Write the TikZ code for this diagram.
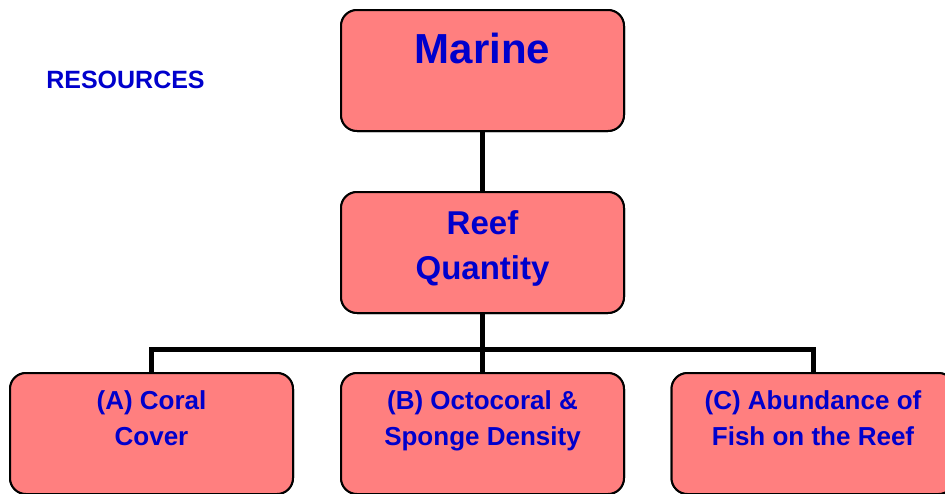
\documentclass[tikz,border=0pt]{standalone}
\usepackage{fontspec}
\setmainfont{Liberation Sans}
\definecolor{boxfill}{HTML}{FF7F7F}
\definecolor{txtblue}{HTML}{0000CC}
\begin{document}
\begin{tikzpicture}[x=1pt,y=-1pt,
  box/.style={draw=black, line width=2pt, fill=boxfill, rounded corners=16pt,
              minimum width=283pt, minimum height=121pt, inner sep=0pt},
  lbl/.style={text=txtblue, font=\bfseries, align=center, inner sep=0pt},
  small/.style={lbl, font=\bfseries\fontsize{26}{36}\selectfont},
  link/.style={line width=5pt, line join=miter}]
\useasboundingbox (0,0) rectangle (945,493);
% boxes
\node[box] (marine) at (482.5,70.5) {};
\node[box] (reef)   at (482.5,252.5) {};
\node[box] (ca)     at (151.5,433.5) {};
\node[box] (cb)     at (482.5,433.5) {};
\node[box] (cc)     at (813,433.5) {};
\coordinate (bus) at (482.5,349);
% connectors
\draw[link] (marine.south) -- (reef.north);
\draw[link] (reef.south) -- (cb.north);
\draw[link] (ca.north) |- (bus) -| (cc.north);
% redraw boxes' borders above connectors
\node[box] at (marine) {};
\node[box] at (reef) {};
\node[box] at (ca) {};
\node[box] at (cb) {};
\node[box] at (cc) {};
% texts
\node[lbl, font=\bfseries\fontsize{42}{48}\selectfont, anchor=base] (tmarine) at (482.5,63) {Marine};
\node[lbl, font=\bfseries\fontsize{33}{45}\selectfont] (treef) at (482.5,248) {Reef\strut\\Quantity\strut};
\node[small] (ta) at (151.5,420.5) {(A) Coral\strut\\Cover\strut};
\node[small] (tb) at (482.5,420.5) {(B) Octocoral \&\strut\\Sponge Density\strut};
\node[small] (tc) at (813,420.5) {(C) Abundance of\strut\\Fish on the Reef\strut};
\node[lbl, font=\bfseries\fontsize{25}{28}\selectfont] (tres) at (125.5,80) {RESOURCES};
\end{tikzpicture}
\end{document}
